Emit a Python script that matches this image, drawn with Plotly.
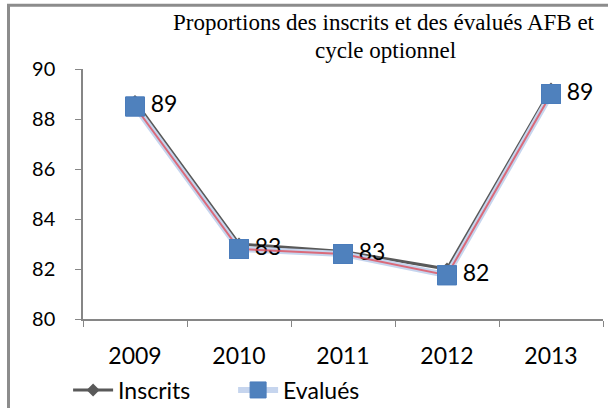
import plotly.graph_objects as go

years = ["2009", "2010", "2011", "2012", "2013"]
inscrits = [88.7, 83.0, 82.7, 82.0, 89.2]
evalues = [88.5, 82.8, 82.6, 81.75, 89.0]
labels = ["89", "83", "83", "82", "89"]
y_ticks = [80, 82, 84, 86, 88, 90]
title_lines = ["Proportions des inscrits et des évalués AFB et", "cycle optionnel"]

FONT = "Lato"

fig = go.Figure()

fig.add_trace(go.Scatter(
    x=years, y=inscrits, name="Inscrits", mode="lines+markers",
    line=dict(color="#595959", width=3),
    marker=dict(symbol="diamond", size=10, color="#595959"),
))

fig.add_trace(go.Scatter(
    x=years, y=evalues, name="Evalués", mode="lines+markers+text",
    line=dict(color="#c6d5ee", width=6),
    marker=dict(symbol="square", size=19, color="#4f81bd",
                line=dict(color="#4a7cbb", width=1)),
    text=["\u2009" + t for t in labels], textposition="middle right",
    textfont=dict(family=FONT, size=23, color="#000000"),
))

fig.add_trace(go.Scatter(
    x=years, y=evalues, name="Evalués", mode="lines", showlegend=False,
    line=dict(color="#e0505e", width=2), hoverinfo="skip", opacity=0.8,
))

fig.add_trace(go.Scatter(
    x=years, y=evalues, mode="markers", showlegend=False, hoverinfo="skip",
    marker=dict(symbol="square", size=19, color="#4f81bd",
                line=dict(color="#4a7cbb", width=1)),
))

fig.update_layout(
    width=608, height=408,
    margin=dict(l=83, r=5, t=69, b=89, autoexpand=False),
    paper_bgcolor="white", plot_bgcolor="white",
    font=dict(family=FONT, size=23, color="#000000"),
    showlegend=True,
    legend=dict(
        orientation="h", xref="container", yref="container",
        x=0.112, y=1 - 390 / 408, xanchor="left", yanchor="middle",
        font=dict(family=FONT, size=23, color="#000000"),
        bgcolor="rgba(0,0,0,0)", itemwidth=40, tracegroupgap=0,
        entrywidth=110, entrywidthmode="pixels",
    ),
    xaxis=dict(
        type="category", range=[-0.5, 4.5], automargin=False,
        showline=True, linecolor="#868686", linewidth=1.5,
        ticks="outside", tickson="boundaries", ticklen=6, tickcolor="#868686",
        showgrid=False, zeroline=False,
        ticklabelstandoff=16,
        tickfont=dict(family=FONT, size=23, color="#000000"),
    ),
    yaxis=dict(
        range=[80, 90], tickvals=y_ticks, automargin=False,
        showline=True, linecolor="#868686", linewidth=1.5,
        ticks="outside", ticklen=6, tickcolor="#868686",
        showgrid=False, zeroline=False,
        ticklabelstandoff=16,
        tickfont=dict(family=FONT, size=20, color="#000000"),
    ),
    annotations=[
        dict(text=title_lines[0], xref="paper", yref="paper",
             x=(383.5 - 83) / 520, y=(318.5 - 23) / 249.5,
             xanchor="center", yanchor="middle", showarrow=False,
             font=dict(family="Liberation Serif", size=23, color="#000000")),
        dict(text=title_lines[1], xref="paper", yref="paper",
             x=(385 - 83) / 520, y=(318.5 - 51) / 249.5,
             xanchor="center", yanchor="middle", showarrow=False,
             font=dict(family="Liberation Serif", size=23, color="#000000")),
    ],
    shapes=[dict(
        type="rect", xref="paper", yref="paper",
        x0=(8.5 - 83) / 520, x1=1.05, y0=-0.4, y1=(318.5 - 5.5) / 249.5,
        line=dict(color="#8c8c8c", width=3), fillcolor="rgba(0,0,0,0)",
        layer="above",
    )],
)

fig.write_html(
    "out.html",
    config={"displayModeBar": False},
    post_script="document.body.style.margin='0';document.body.style.overflow='hidden';",
)
